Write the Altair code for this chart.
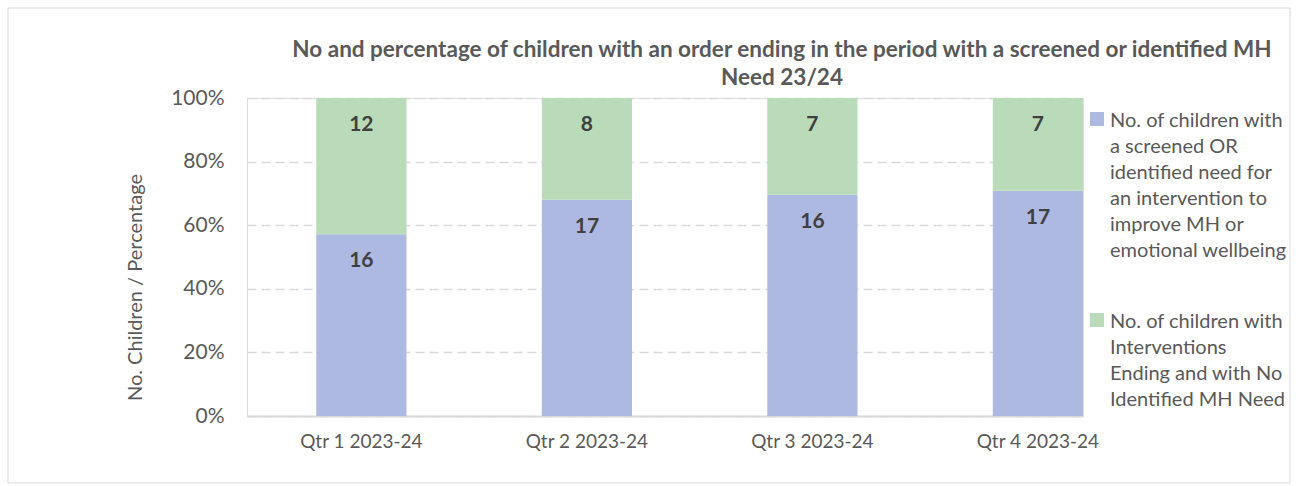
import altair as alt
import pandas as pd

quarters = ["Qtr 1 2023-24", "Qtr 2 2023-24", "Qtr 3 2023-24", "Qtr 4 2023-24"]
need_counts = [16, 17, 16, 17]
no_need_counts = [12, 8, 7, 7]
series = [
    "No. of children with a screened OR identified need for an intervention to improve MH or emotional wellbeing",
    "No. of children with Interventions Ending and with No Identified MH Need",
]
legend_lines = [
    ["No. of children with", "a screened OR", "identified need for", "an intervention to", "improve MH or", "emotional wellbeing"],
    ["No. of children with", "Interventions", "Ending and with No", "Identified MH Need"],
]
colors = ["#adb9e0", "#b9dbb9"]
title_lines = [
    "No and percentage of children with an order ending in the period with a screened or identified MH",
    "Need 23/24",
]

rows = []
for q, a, b in zip(quarters, need_counts, no_need_counts):
    rows.append({"quarter": q, "series": series[0], "value": a, "order": 0})
    rows.append({"quarter": q, "series": series[1], "value": b, "order": 1})
df = pd.DataFrame(rows)

def js_list(lines):
    return "[" + ",".join("'" + l + "'" for l in lines) + "]"

label_expr = f"datum.label == '{series[0]}' ? {js_list(legend_lines[0])} : {js_list(legend_lines[1])}"

FONT = "Lato"
W, H = 836, 318
LEFT, TOP = 247, 98

x_enc = alt.X(
    "quarter:N",
    sort=quarters,
    scale=alt.Scale(paddingInner=0.6, paddingOuter=0.1536, align=1),
    axis=alt.Axis(title=None, labelAngle=0, labelFontSize=19, labelColor="#595959",
                  labelFont=FONT, ticks=False, domain=True, domainColor="#d9d9d9",
                  domainWidth=2, labelPadding=16),
)

bars = alt.Chart(df).mark_bar().encode(
    x=x_enc,
    y=alt.Y(
        "value:Q",
        stack="normalize",
        scale=alt.Scale(domain=[0, 1]),
        axis=alt.Axis(
            format="%", values=[0, 0.2, 0.4, 0.6, 0.8, 1.0], title="No.  Children / Percentage",
            labelFontSize=21, labelColor="#595959", labelFont=FONT, labelPadding=23,
            ticks=False, domain=False, grid=True, gridColor="#d9d9d9", gridDash=[9, 5],
            gridWidth=1.5, titleFont=FONT, titleFontSize=20, titleFontWeight="normal",
            titleColor="#595959", titleX=-112, titleY=189, titleAlign="center",
            titleBaseline="middle", titleAngle=-90,
        ),
    ),
    color=alt.Color(
        "series:N",
        sort=series,
        scale=alt.Scale(domain=series, range=colors),
        legend=alt.Legend(
            title=None, orient="none", legendX=840, legendY=3,
            symbolType="M-1,0.14H1V2.14H-1Z",
            symbolSize=196, symbolStrokeWidth=0, labelFont=FONT, labelFontSize=20,
            labelColor="#595959", labelLimit=400, labelExpr=label_expr,
            labelBaseline="top", labelOffset=3, rowPadding=41,
        ),
    ),
    order=alt.Order("order:Q"),
)

labels = alt.Chart(df).mark_text(
    font=FONT, fontSize=21, fontWeight="bold", color="#404040", dy=27, baseline="middle"
).encode(
    x=alt.X("quarter:N", sort=quarters),
    y=alt.Y("value:Q", stack="normalize"),
    detail="series:N",
    order=alt.Order("order:Q"),
    text="value:Q",
)

title = alt.Chart(pd.DataFrame({"k": [0]})).mark_text(
    font=FONT, fontSize=22.5, fontWeight="bold", color="#595959",
    align="center", baseline="middle", lineHeight=28,
).encode(
    x=alt.value(782 - LEFT), y=alt.value(50 - TOP), text=alt.value(title_lines),
)

border = alt.Chart(pd.DataFrame({"k": [0]})).mark_rect(
    fill=None, stroke="#d9d9d9", strokeWidth=1
).encode(
    x=alt.value(8 - LEFT), x2=alt.value(1290 - LEFT),
    y=alt.value(8 - TOP), y2=alt.value(483 - TOP),
)

chart = alt.layer(bars, labels, title, border).properties(
    width=W, height=H,
    autosize=alt.AutoSizeParams(type="none"),
    padding={"left": LEFT, "top": TOP, "right": 1296 - LEFT - W, "bottom": 486 - TOP - H},
).configure_view(stroke=None).configure(
    background="white", style={"guide-label": {"lineHeight": 26}}
)

chart.save("out.html", embed_options={"renderer": "svg", "actions": False})
